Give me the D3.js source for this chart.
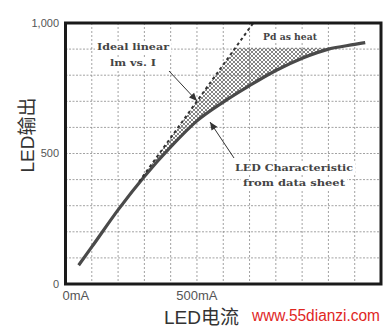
<!DOCTYPE html>
<html>
<head>
<meta charset="utf-8">
<script src="https://cdn.jsdelivr.net/npm/d3@7"></script>
<style>
  body { margin: 0; background: #fff; }
  svg { display: block; }
</style>
</head>
<body>
<svg width="388" height="327"></svg>
<script>
// LED characteristic
var currentMA = [50, 100, 200, 300, 400, 500, 600, 700, 800, 900, 1000, 1100, 1140];
var outputLm  = [72, 142, 284, 412, 525, 625, 697, 760, 818, 865, 900, 918, 925];

// ideal linear lm vs. I (dashed)
var idealMA = [280, 714];
var idealLm = [392, 1000];

// top of the hatched "Pd as heat" area
var hatchTopLm = 905;

var xTicks = [0, 500];
var xTickLabels = ["0mA", "500mA"];
var yTicks = [0, 500, 1000];
var yTickLabels = ["0", "500", "1,000"];

var svg = d3.select("svg");
var plotLeft = 65.5, plotRight = 381, plotTop = 23, plotBottom = 284;

var x = d3.scaleLinear().domain([0, 1200]).range([plotLeft, plotRight]),
    y = d3.scaleLinear().domain([0, 1000]).range([plotBottom, plotTop]);

var defs = svg.append("defs");
var pat = defs.append("pattern")
  .attr("id", "hatch")
  .attr("patternUnits", "userSpaceOnUse")
  .attr("width", 4).attr("height", 4);
pat.append("path").attr("d", "M0,0L4,4M4,0L0,4")
  .attr("stroke", "#666").attr("stroke-width", 0.8);

defs.append("clipPath").attr("id", "hatchclip")
  .append("rect")
  .attr("x", plotLeft).attr("y", y(hatchTopLm))
  .attr("width", plotRight - plotLeft).attr("height", plotBottom - y(hatchTopLm));

// grid
var grid = svg.append("g");
grid.selectAll(".vg").data(d3.range(100, 1200, 100)).enter().append("line")
  .attr("x1", function(d) { return x(d); }).attr("x2", function(d) { return x(d); })
  .attr("y1", plotTop).attr("y2", plotBottom)
  .attr("stroke", "#8a8a8a").attr("stroke-width", 0.8).attr("stroke-dasharray", "2,2");
grid.selectAll(".hg").data(d3.range(100, 1000, 100)).enter().append("line")
  .attr("y1", function(d) { return y(d); }).attr("y2", function(d) { return y(d); })
  .attr("x1", plotLeft).attr("x2", plotRight)
  .attr("stroke", "#8a8a8a").attr("stroke-width", 0.8).attr("stroke-dasharray", "2,1.5");

var curvePts = currentMA.map(function(d, i) { return [d, outputLm[i]]; });

// hatched area between ideal line and the curve
var hatchPts = [[idealMA[0], idealLm[0]], [idealMA[1], idealLm[1]]]
  .concat(curvePts.filter(function(p) { return p[0] >= idealMA[0]; }).reverse());
svg.append("path")
  .attr("clip-path", "url(#hatchclip)")
  .attr("d", d3.line().x(function(p) { return x(p[0]); }).y(function(p) { return y(p[1]); })(hatchPts) + "Z")
  .attr("fill", "url(#hatch)");

var line = d3.line().curve(d3.curveMonotoneX)
  .x(function(p) { return x(p[0]); }).y(function(p) { return y(p[1]); });

svg.append("path").datum(curvePts)
  .attr("d", line).attr("fill", "none")
  .attr("stroke", "#4a4a4a").attr("stroke-width", 3.2);

svg.append("path").datum(idealMA.map(function(d, i) { return [d, idealLm[i]]; }))
  .attr("d", d3.line().x(function(p) { return x(p[0]); }).y(function(p) { return y(p[1]); }))
  .attr("fill", "none").attr("stroke", "#333").attr("stroke-width", 2)
  .attr("stroke-dasharray", "3,3");

// frame
svg.append("rect")
  .attr("x", plotLeft).attr("y", plotTop).attr("width", plotRight - plotLeft).attr("height", plotBottom - plotTop)
  .attr("fill", "none").attr("stroke", "#1a1a1a").attr("stroke-width", 3);

// axis labels
svg.selectAll(".yl").data(yTicks).enter().append("text")
  .attr("x", 59).attr("y", function(d) { return y(d); }).attr("dy", "0.35em")
  .attr("text-anchor", "end")
  .attr("font-family", "Liberation Sans, Arial, sans-serif").attr("font-size", 11)
  .attr("fill", "#555")
  .text(function(d, i) { return yTickLabels[i]; });

svg.selectAll(".xl").data(xTicks).enter().append("text")
  .attr("x", function(d, i) { return i === 0 ? x(d) - 3 : x(d); })
  .attr("y", 300)
  .attr("text-anchor", function(d, i) { return i === 0 ? "start" : "middle"; })
  .attr("font-family", "Liberation Sans, Arial, sans-serif").attr("font-size", 13)
  .attr("fill", "#555")
  .text(function(d, i) { return xTickLabels[i]; });

svg.append("text")
  .attr("transform", "translate(34,135) rotate(-90)")
  .attr("text-anchor", "middle")
  .attr("font-family", "Liberation Sans, Noto Sans CJK SC, sans-serif").attr("font-size", 19)
  .attr("fill", "#333")
  .text("LED输出");

svg.append("text")
  .attr("x", 164).attr("y", 324)
  .attr("font-family", "Liberation Sans, Noto Sans CJK SC, sans-serif").attr("font-size", 19)
  .attr("fill", "#333")
  .text("LED电流");

svg.append("text")
  .attr("x", 252).attr("y", 321)
  .attr("font-family", "Liberation Sans, Arial, sans-serif").attr("font-size", 16)
  .attr("textLength", 128).attr("lengthAdjust", "spacingAndGlyphs")
  .attr("fill", "#e0261f")
  .text("www.55dianzi.com");

// annotations
var notes = [
  {t: "Ideal linear", x: 133, y: 50, w: 72},
  {t: "lm vs. I", x: 133, y: 66, w: 46},
  {t: "Pd as heat", x: 290, y: 40, w: 54},
  {t: "LED Characteristic", x: 294, y: 171, w: 118},
  {t: "from data sheet", x: 294, y: 186, w: 102}
];
var ng = svg.append("g");
notes.forEach(function(n) {
  ng.append("rect").attr("x", n.x - n.w / 2 - 2).attr("y", n.y - 9)
    .attr("width", n.w + 4).attr("height", 12).attr("fill", "#fff");
});
notes.forEach(function(n) {
  ng.append("text").attr("x", n.x).attr("y", n.y)
    .attr("text-anchor", "middle")
    .attr("font-family", "DejaVu Serif, serif").attr("font-weight", "bold").attr("font-size", 8.5)
    .attr("textLength", n.w).attr("lengthAdjust", "spacingAndGlyphs")
    .attr("fill", "#444")
    .text(n.t);
});

function arrow(x1, y1, x2, y2) {
  var a = Math.atan2(y2 - y1, x2 - x1), L = 8, W = 3.5;
  svg.append("line").attr("x1", x1).attr("y1", y1).attr("x2", x2).attr("y2", y2)
    .attr("stroke", "#333").attr("stroke-width", 1);
  var bx = x2 - L * Math.cos(a), by = y2 - L * Math.sin(a);
  svg.append("path")
    .attr("d", "M" + x2 + "," + y2 +
      "L" + (bx + W * Math.sin(a)) + "," + (by - W * Math.cos(a)) +
      "L" + (bx - W * Math.sin(a)) + "," + (by + W * Math.cos(a)) + "Z")
    .attr("fill", "#333");
}
arrow(169, 71, 197, 101);
arrow(234, 158, 210, 122);
</script>
</body>
</html>
